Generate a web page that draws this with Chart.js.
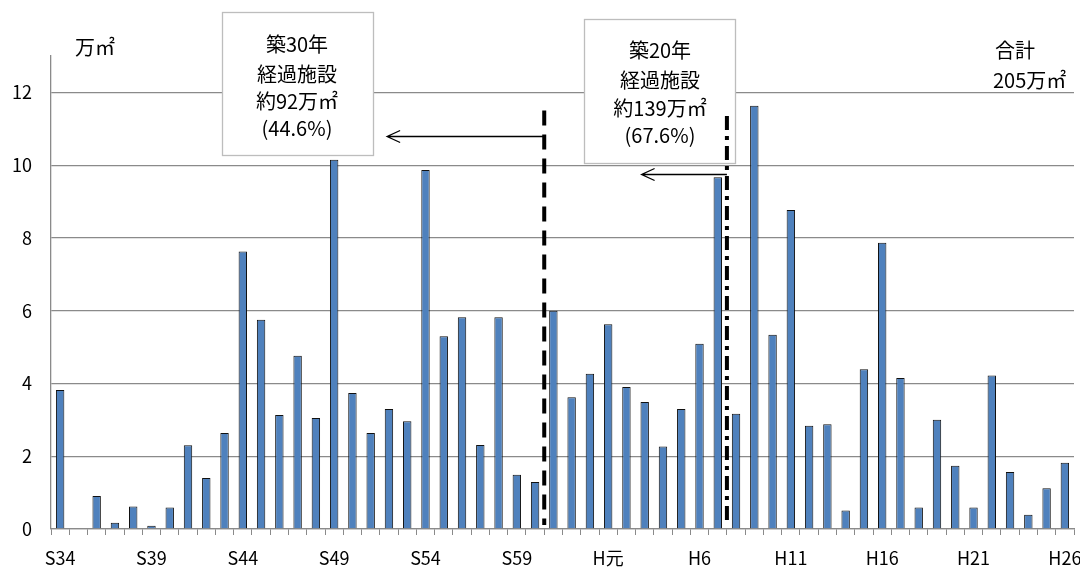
<!DOCTYPE html>
<html lang="ja">
<head>
<meta charset="utf-8">
<script src="https://cdn.jsdelivr.net/npm/chart.js@4.4.1/dist/chart.umd.min.js"></script>
<style>
  html, body { margin: 0; padding: 0; background: #fff; overflow: hidden; }
  #wrap { width: 1080px; height: 567px; position: relative; }
</style>
</head>
<body>
<div id="wrap"><canvas id="chart" width="1080" height="567"></canvas></div>
<script>
// 年度（S34〜H26）
const years = [
  "S34", "S35", "S36", "S37", "S38", "S39", "S40", "S41", "S42", "S43",
  "S44", "S45", "S46", "S47", "S48", "S49", "S50", "S51", "S52", "S53",
  "S54", "S55", "S56", "S57", "S58", "S59", "S60", "S61", "S62", "S63",
  "H元", "H2", "H3", "H4", "H5", "H6", "H7", "H8", "H9", "H10",
  "H11", "H12", "H13", "H14", "H15", "H16", "H17", "H18", "H19", "H20",
  "H21", "H22", "H23", "H24", "H25", "H26",
];

// 延床面積（万㎡）
const areas = [
  3.82, 0, 0.91, 0.17, 0.62, 0.09, 0.59, 2.30, 1.40, 2.64,
  7.63, 5.75, 3.13, 4.76, 3.05, 10.15, 3.74, 2.64, 3.30, 2.96,
  9.87, 5.30, 5.82, 2.31, 5.82, 1.49, 1.29, 6.00, 3.62, 4.27,
  5.63, 3.90, 3.49, 2.27, 3.30, 5.09, 9.67, 3.17, 11.63, 5.34,
  8.77, 2.84, 2.88, 0.51, 4.39, 7.87, 4.15, 0.59, 3.00, 1.74,
  0.59, 4.22, 1.57, 0.39, 1.12, 1.82,
];

// 表示する軸ラベル（5年ごと）
const shownLabels = ["S34", "S39", "S44", "S49", "S54", "S59", "H元", "H6", "H11", "H16", "H21", "H26"];
const yTicks = [0, 2, 4, 6, 8, 10, 12];

const FONT = "'Noto Sans CJK JP', 'Noto Sans', sans-serif";
const GRID = "#8a8a8a";

// 築年数の区切り（カテゴリ境界）と注記
const marks = [
  { after: 26, top: 11.5, dash: [15, 9], arrowY: 10.79, arrowTo: 17.9 },
  { after: 36, top: 11.35, dash: [14, 6, 4, 6], arrowY: 9.76, arrowTo: 31.83 },
];
const boxes = [
  { x: 222, y: 12, w: 151, h: 143, cx: 297, lines: ["築30年", "経過施設", "約92万㎡", "(44.6%)"], ys: [44, 74, 101, 128] },
  { x: 584, y: 19, w: 151, h: 144, cx: 660, lines: ["築20年", "経過施設", "約139万㎡", "(67.6%)"], ys: [50, 80, 108, 135] },
];

const notes = {
  id: "notes",
  afterDatasetsDraw(chart) {
    const { ctx } = chart;
    const xs = chart.scales.x;
    const ys = chart.scales.y;
    ctx.save();

    // 枠
    boxes.forEach((b) => {
      ctx.fillStyle = "#fff";
      ctx.fillRect(b.x, b.y, b.w, b.h);
      ctx.strokeStyle = "#bdbdbd";
      ctx.lineWidth = 1.3;
      ctx.strokeRect(b.x + 0.5, b.y + 0.5, b.w, b.h);
      ctx.fillStyle = "#000";
      ctx.font = "20px " + FONT;
      ctx.textAlign = "center";
      ctx.textBaseline = "middle";
      b.lines.forEach((t, i) => ctx.fillText(t, b.cx, b.ys[i]));
    });

    // 区切り線と矢印
    marks.forEach((m) => {
      const x = (xs.getPixelForValue(m.after) + xs.getPixelForValue(m.after + 1)) / 2;
      ctx.strokeStyle = "#000";
      ctx.lineWidth = 4;
      ctx.setLineDash(m.dash);
      ctx.beginPath();
      ctx.moveTo(x, ys.getPixelForValue(m.top));
      ctx.lineTo(x, ys.getPixelForValue(0) - 4);
      ctx.stroke();
      ctx.setLineDash([]);

      const ay = Math.round(ys.getPixelForValue(m.arrowY)) + 0.5;
      const tip = xs.getPixelForValue(m.arrowTo);
      ctx.lineWidth = 1.3;
      ctx.beginPath();
      ctx.moveTo(x, ay);
      ctx.lineTo(tip, ay);
      ctx.moveTo(tip + 13, ay - 6);
      ctx.lineTo(tip, ay);
      ctx.lineTo(tip + 13, ay + 6);
      ctx.stroke();
    });

    // 単位と合計
    ctx.fillStyle = "#000";
    ctx.font = "20px " + FONT;
    ctx.textAlign = "left";
    ctx.textBaseline = "middle";
    ctx.fillText("万㎡", 75, 47);
    ctx.fillText("合計", 995, 50);
    ctx.fillText("205万㎡", 993, 80);
    ctx.restore();
  },
};

new Chart(document.getElementById("chart"), {
  type: "bar",
  data: {
    labels: years,
    datasets: [
      {
        data: areas,
        backgroundColor: "#4f81bd",
        borderColor: "#111",
        borderWidth: 1,
        barPercentage: 0.46,
        categoryPercentage: 1,
      },
    ],
  },
  options: {
    responsive: false,
    animation: false,
    layout: { padding: { top: 56, right: 6, left: 0, bottom: 0 } },
    plugins: { legend: { display: false }, tooltip: { enabled: false } },
    scales: {
      x: {
        offset: true,
        afterFit: (s) => {
          s.height = 38;
          s.paddingLeft = 0;
          s.paddingRight = 0;
        },
        border: { color: GRID, width: 1.3 },
        grid: { drawOnChartArea: false, drawTicks: true, tickLength: 6, color: GRID, offset: true },
        ticks: {
          autoSkip: false,
          maxRotation: 0,
          padding: 12,
          color: "#000",
          font: { family: FONT, size: 18 },
          callback: (v, i) => (shownLabels.includes(years[i]) ? years[i] : ""),
        },
      },
      y: {
        min: 0,
        max: 13,
        afterFit: (s) => {
          s.width = 51;
        },
        afterBuildTicks: (s) => {
          s.ticks = yTicks.map((v) => ({ value: v }));
        },
        border: { color: GRID, width: 1.3 },
        grid: { color: GRID, lineWidth: 1.3, drawTicks: false },
        ticks: {
          padding: 19,
          color: "#000",
          font: { family: FONT, size: 18 },
        },
      },
    },
  },
  plugins: [notes],
});
</script>
</body>
</html>
